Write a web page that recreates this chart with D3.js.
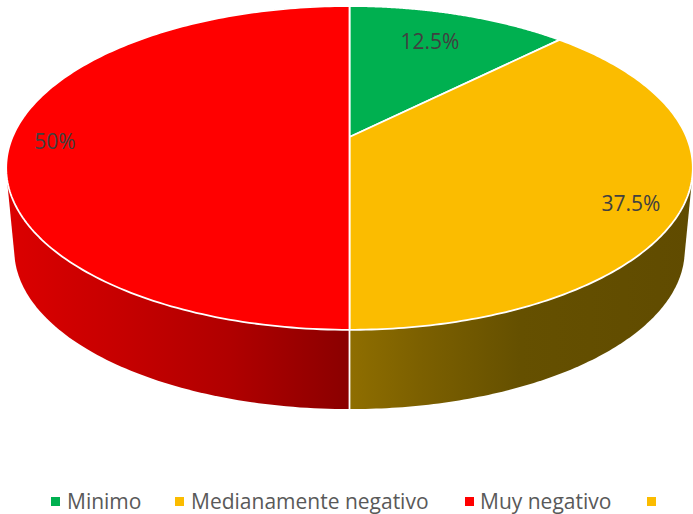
<!DOCTYPE html>
<html><head><meta charset="utf-8">
<script src="https://cdnjs.cloudflare.com/ajax/libs/d3/7.8.5/d3.min.js"></script>
<style>html,body{margin:0;padding:0;background:#fff}svg{display:block}</style>
</head><body><svg id="c" width="693" height="514"></svg>
<script>
const categories=["Minimo","Medianamente negativo","Muy negativo",""];
const values=[12.5,37.5,50,0];
const valueLabels=["12.5%","37.5%","50%"];
const colors=["#00B050","#FBBC00","#FF0000","#FBBC00"];

const svg=d3.select("#c");
const cx=349.5, apexY=137, a=337, b=156, k=0.191;
const wallA=329, wallB=153, wallApex=220;
const proj=(t,A,B,K,Y0)=>{const X=Math.sin(t),Y=-Math.cos(t),w=1-K*Y;return [cx+A*X/w,Y0+B*Y/w];};
const top_=t=>proj(t,a,b,k,apexY);
const bot=t=>proj(t,wallA,wallB,k,wallApex);
const pie=d3.pie().sort(null).value(d=>d);
const arcs=pie(values);
const line=d3.line().curve(d3.curveLinear);
const steps=(s,e)=>d3.range(0,181).map(i=>s+(e-s)*i/180);
const defs=svg.append("defs");
const grad=(id,stops)=>{const g=defs.append("linearGradient").attr("id",id).attr("gradientUnits","userSpaceOnUse").attr("x1",0).attr("x2",693).attr("y1",0).attr("y2",0);
 stops.forEach(s=>g.append("stop").attr("offset",s[0]/693).attr("stop-color",s[1]));};
grad("wall1",[[349,"#8F6E00"],[420,"#7C6000"],[520,"#655000"],[693,"#604B00"]]);
grad("wall2",[[6,"#DC0000"],[120,"#C60000"],[230,"#B00000"],[349,"#8A0000"]]);
const fills={1:"url(#wall1)",2:"url(#wall2)"};
// walls: convex hull of the top and bottom rim of each slice
[1,2].forEach(i=>{const d=arcs[i];const ts=steps(d.startAngle,d.endAngle);
 const hull=d3.polygonHull(ts.map(top_).concat(ts.map(bot)));
 svg.append("path").attr("d",line(hull)+"Z").attr("fill",fills[i]);});
// wall seam
svg.append("line").attr("x1",top_(Math.PI)[0]).attr("y1",top_(Math.PI)[1]).attr("x2",bot(Math.PI)[0]).attr("y2",bot(Math.PI)[1]).attr("stroke","#fff").attr("stroke-width",1.8);
// top
arcs.forEach((d,i)=>{if(d.value<=0)return;const ts=steps(d.startAngle,d.endAngle);
 const pts=[[cx,apexY]].concat(ts.map(top_));
 svg.append("path").attr("d",line(pts)+"Z").attr("fill",colors[i]).attr("stroke","#fff").attr("stroke-width",1.8).attr("stroke-linejoin","round");});
// value labels
const labelPos=[[430,41],[631,203],[55,141]];
valueLabels.forEach((t,i)=>svg.append("text").text(t).attr("x",labelPos[i][0]).attr("y",labelPos[i][1]).attr("dy","0.36em").attr("text-anchor","middle")
 .attr("font-family","'Open Sans',sans-serif").attr("font-size",21).attr("fill","#404040"));
// legend
const legX=[[51,67],[175,191],[465,480],[647,660]];
categories.forEach((c,i)=>{
 svg.append("rect").attr("x",legX[i][0]).attr("y",497).attr("width",9).attr("height",9).attr("fill",colors[i]);
 if(c) svg.append("text").text(c).attr("x",legX[i][1]).attr("y",509).attr("font-family","'Open Sans',sans-serif").attr("font-size",21).attr("fill","#595959");
});
</script></body></html>
